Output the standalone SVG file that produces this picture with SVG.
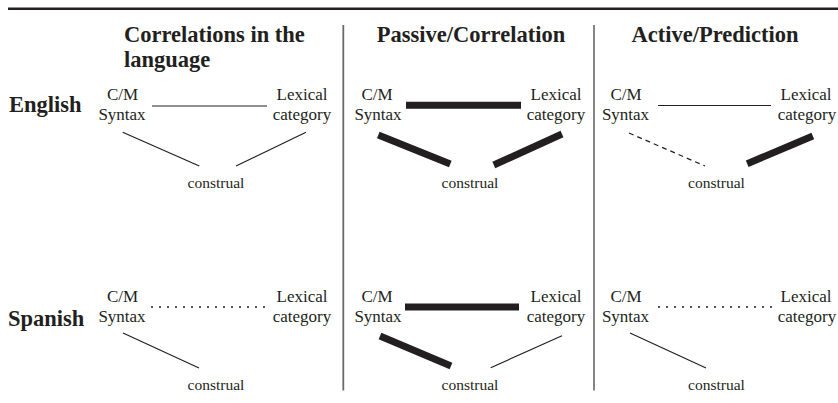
<svg xmlns="http://www.w3.org/2000/svg" width="838" height="403" viewBox="0 0 838 403">
<style>
text{font-family:"Liberation Serif","Times New Roman",serif;fill:#231f20}
.h{font-family:"Liberation Serif","Times New Roman",serif;font-size:22.5px;font-weight:bold}
.l{font-family:"Liberation Serif","Times New Roman",serif;font-size:17px;text-anchor:middle}
.c{font-family:"Liberation Serif","Times New Roman",serif;font-size:15.5px;text-anchor:middle}
.thin{stroke:#231f20;stroke-width:1.2;fill:none}
.thick{stroke:#231f20;stroke-width:7;fill:none}
.dot{stroke:#231f20;stroke-width:1.3;stroke-dasharray:2 6;fill:none}
.dash{stroke:#231f20;stroke-width:1.2;stroke-dasharray:5 4;fill:none}
</style>
<g id="frame">
<line x1="8" y1="8.7" x2="838" y2="8.7" stroke="#231f20" stroke-width="2.5"/>
<line x1="343.3" y1="25" x2="343.3" y2="390.5" stroke="#6a6a6a" stroke-width="1.8"/>
<line x1="594" y1="25" x2="594" y2="390.5" stroke="#231f20" stroke-width="1.1"/>
</g>
<g id="titles">
<text class="h" x="124" y="41.7">Correlations in the</text>
<text class="h" x="124" y="66.7">language</text>
<text class="h" x="471" y="41.7" text-anchor="middle">Passive/Correlation</text>
<text class="h" x="715" y="41.7" text-anchor="middle">Active/Prediction</text>
</g>
<g id="row-english"><text class="h" x="9" y="112">English</text></g>
<g id="row-spanish"><text class="h" x="8" y="326">Spanish</text></g>

<g id="en-corr-cm"><text class="l" x="122.5" y="100">C/M</text><text class="l" x="122" y="119.5">Syntax</text></g>
<g id="en-corr-lex"><text class="l" x="302" y="100">Lexical</text><text class="l" x="302" y="119.5">category</text></g>
<g id="en-corr-con"><text class="c" x="216" y="188">construal</text></g>

<g id="en-pass-cm"><text class="l" x="377" y="100">C/M</text><text class="l" x="378" y="119.5">Syntax</text></g>
<g id="en-pass-lex"><text class="l" x="556" y="100">Lexical</text><text class="l" x="556" y="119.5">category</text></g>
<g id="en-pass-con"><text class="c" x="470" y="188">construal</text></g>

<g id="en-act-cm"><text class="l" x="626" y="100">C/M</text><text class="l" x="625.5" y="119.5">Syntax</text></g>
<g id="en-act-lex"><text class="l" x="806" y="100">Lexical</text><text class="l" x="807" y="119.5">category</text></g>
<g id="en-act-con"><text class="c" x="716.5" y="188">construal</text></g>

<g id="es-corr-cm"><text class="l" x="122.5" y="302">C/M</text><text class="l" x="122" y="321.5">Syntax</text></g>
<g id="es-corr-lex"><text class="l" x="302" y="302">Lexical</text><text class="l" x="302" y="321.5">category</text></g>
<g id="es-corr-con"><text class="c" x="216" y="390">construal</text></g>

<g id="es-pass-cm"><text class="l" x="377" y="302">C/M</text><text class="l" x="378" y="321.5">Syntax</text></g>
<g id="es-pass-lex"><text class="l" x="556" y="302">Lexical</text><text class="l" x="556" y="321.5">category</text></g>
<g id="es-pass-con"><text class="c" x="470" y="390">construal</text></g>

<g id="es-act-cm"><text class="l" x="626" y="302">C/M</text><text class="l" x="625.5" y="321.5">Syntax</text></g>
<g id="es-act-lex"><text class="l" x="806" y="302">Lexical</text><text class="l" x="807" y="321.5">category</text></g>
<g id="es-act-con"><text class="c" x="716.5" y="390">construal</text></g>

<g id="connectors">
<line class="thin" x1="152" y1="106" x2="267" y2="106"/>
<line class="thin" x1="122.7" y1="132.3" x2="199.3" y2="166"/>
<line class="thin" x1="236" y1="166" x2="306" y2="132.3"/>
<line class="thick" x1="406" y1="105.3" x2="521" y2="105.3"/>
<line class="thick" x1="378.3" y1="135" x2="450.3" y2="164"/>
<line class="thick" x1="493.8" y1="165" x2="562" y2="134"/>
<line class="thin" x1="658" y1="105.5" x2="771" y2="105.5"/>
<line class="dash" x1="629" y1="133" x2="705" y2="166"/>
<line class="thick" x1="747.2" y1="163.7" x2="812.8" y2="136"/>
<line class="dot" x1="151" y1="307" x2="267" y2="307"/>
<line class="thin" x1="123" y1="333" x2="199" y2="368"/>
<line class="thick" x1="405" y1="307" x2="519" y2="307"/>
<line class="thick" x1="380" y1="336" x2="451" y2="366"/>
<line class="thin" x1="490.7" y1="367.7" x2="562" y2="335.7"/>
<line class="dot" x1="658" y1="307" x2="773" y2="307"/>
<line class="thin" x1="630" y1="333" x2="706" y2="368"/>
</g>
</svg>
